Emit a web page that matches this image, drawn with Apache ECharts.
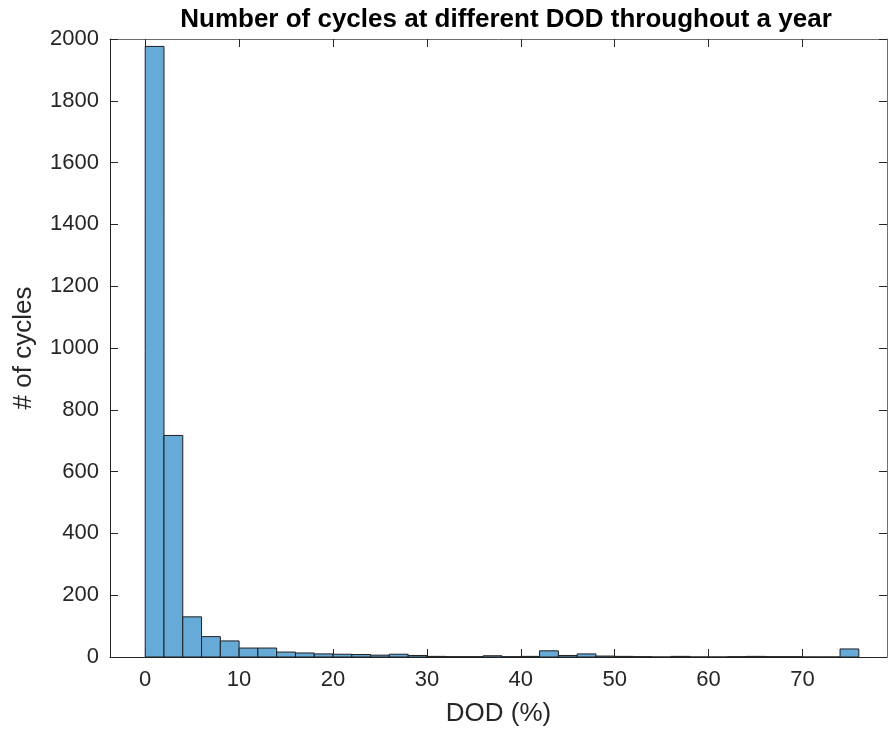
<!DOCTYPE html>
<html>
<head>
<meta charset="utf-8">
<script src="https://cdn.jsdelivr.net/npm/echarts@6/dist/echarts.min.js"></script>
<style>
  html, body { margin: 0; padding: 0; background: #fff; }
  #chart { width: 888px; height: 735px; }
</style>
</head>
<body>
<div id="chart"></div>
<script>
// Histogram of cycle depth-of-discharge, bin width 2 %
const binEdges = [0, 2, 4, 6, 8, 10, 12, 14, 16, 18, 20, 22, 24, 26, 28, 30, 32, 34, 36, 38,
                  40, 42, 44, 46, 48, 50, 52, 54, 56, 58, 60, 62, 64, 66, 68, 70, 72, 74, 76];
const counts = [1976, 717, 130, 66, 52, 29, 29, 16, 13, 10,
                9, 8, 6, 9, 5, 2, 1, 1, 4, 1,
                2, 20, 5, 10, 3, 2, 1, 0, 2, 0,
                0, 1, 2, 1, 1, 0, 0, 26];
const xTicks = [0, 10, 20, 30, 40, 50, 60, 70];

const titleText = 'Number of cycles at different DOD throughout a year';
const xName = 'DOD (%)';
const yName = '# of cycles';

const FONT = '"Liberation Sans", Arial, Helvetica, sans-serif';
const AXIS = '#262626';

const bins = counts.map((c, i) => [binEdges[i], binEdges[i + 1], c]);

const chart = echarts.init(document.getElementById('chart'), null, { renderer: 'canvas' });

const xRange = { min: -3.75, max: 79 };
const yRange = { min: 0, max: 2000, interval: 200 };

chart.setOption({
  animation: false,
  backgroundColor: '#ffffff',
  title: {
    text: titleText,
    left: 501, top: 2,
    textAlign: 'center',
    textStyle: { fontFamily: FONT, fontSize: 26, fontWeight: 'bold', color: '#000' }
  },
  grid: { left: 110, right: 1, top: 39, bottom: 78, containLabel: false },
  xAxis: [{
    type: 'value', ...xRange,
    position: 'bottom',
    name: xName, nameLocation: 'middle', nameGap: 44,
    nameTextStyle: { fontFamily: FONT, fontSize: 26, color: AXIS },
    axisLine: { show: true, onZero: false, lineStyle: { color: AXIS, width: 1 } },
    axisTick: { show: true, inside: true, length: 8, customValues: xTicks, lineStyle: { color: AXIS } },
    axisLabel: { customValues: xTicks, margin: 12, fontFamily: FONT, fontSize: 22, color: AXIS },
    splitLine: { show: false }
  }, {
    type: 'value', ...xRange,
    position: 'top',
    axisLine: { show: true, onZero: false, lineStyle: { color: '#6e6e6e', width: 1 } },
    axisTick: { show: true, inside: true, length: 8, customValues: xTicks, lineStyle: { color: AXIS } },
    axisLabel: { show: false },
    splitLine: { show: false }
  }],
  yAxis: [{
    type: 'value', ...yRange,
    position: 'left',
    name: yName, nameLocation: 'middle', nameGap: 73, nameRotate: 90,
    nameTextStyle: { fontFamily: FONT, fontSize: 26, color: AXIS },
    axisLine: { show: true, onZero: false, lineStyle: { color: AXIS, width: 1 } },
    axisTick: { show: true, inside: true, length: 8, lineStyle: { color: AXIS } },
    axisLabel: { margin: 11, fontFamily: FONT, fontSize: 22, color: AXIS, formatter: v => String(v) },
    splitLine: { show: false }
  }, {
    type: 'value', ...yRange,
    position: 'right',
    axisLine: { show: true, onZero: false, lineStyle: { color: '#6e6e6e', width: 1 } },
    axisTick: { show: true, inside: true, length: 8, lineStyle: { color: AXIS } },
    axisLabel: { show: false },
    splitLine: { show: false }
  }],
  series: [{
    type: 'custom',
    xAxisIndex: 0, yAxisIndex: 0,
    data: bins,
    encode: { x: [0, 1], y: 2 },
    renderItem: function (params, api) {
      const p0 = api.coord([api.value(0), api.value(2)]);
      const p1 = api.coord([api.value(1), 0]);
      return {
        type: 'rect',
        shape: { x: p0[0], y: p0[1], width: p1[0] - p0[0], height: p1[1] - p0[1] },
        style: { fill: '#66aad7', stroke: '#1f1f1f', lineWidth: 1 }
      };
    }
  }]
});
</script>
</body>
</html>
